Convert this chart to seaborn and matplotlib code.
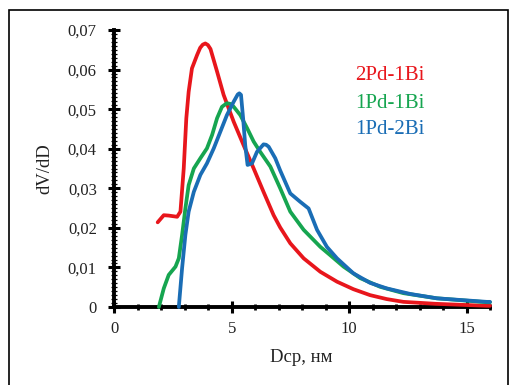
import matplotlib
matplotlib.use("Agg")
import matplotlib.pyplot as plt
import seaborn as sns
import pandas as pd
from matplotlib.patches import Rectangle
from matplotlib.ticker import MultipleLocator, FixedLocator

# ---- data ----
red_x = [1.84, 2.10, 2.31, 2.67, 2.81, 2.95, 3.06, 3.16, 3.30, 3.52, 3.65, 3.76, 3.87, 3.98, 4.09,
         4.37, 4.65, 5.08, 5.50, 5.93, 6.35, 6.78, 7.06, 7.49, 8.06, 8.77, 9.48, 10.18, 10.89,
         11.6, 12.31, 13.7, 15.86, 16.0]
red_y = [0.0214, 0.0232, 0.0231, 0.0228, 0.0241, 0.0350, 0.0477, 0.0544, 0.0603, 0.0637, 0.0655,
         0.0663, 0.0666, 0.0662, 0.0652, 0.0595, 0.0536, 0.0468, 0.0409, 0.0350, 0.0291, 0.0232,
         0.0201, 0.0161, 0.0123, 0.0089, 0.0064, 0.0045, 0.0030, 0.0020, 0.0013, 0.0008, 0.0003,
         0.0003]

green_x = [1.89, 2.10, 2.31, 2.60, 2.74, 2.88, 3.02, 3.16, 3.38, 3.66, 3.94, 4.16, 4.37, 4.58,
           4.79, 4.95, 5.08, 5.36, 5.65, 5.93, 6.21, 6.64, 7.06, 7.49, 8.06, 8.77, 9.19, 9.76,
           10.47, 11.32, 12.31, 13.73, 15.86, 16.0]
green_y = [0.0, 0.0047, 0.0081, 0.0102, 0.0123, 0.0182, 0.0249, 0.0308, 0.0350, 0.0376, 0.0401,
           0.0435, 0.0477, 0.0506, 0.0515, 0.0513, 0.0506, 0.0485, 0.0452, 0.0418, 0.0392, 0.0355,
           0.0300, 0.0241, 0.0195, 0.0152, 0.0131, 0.0102, 0.0073, 0.0051, 0.0035, 0.0022, 0.0012,
           0.0012]

blue_x = [2.74, 2.88, 3.02, 3.16, 3.38, 3.66, 3.94, 4.23, 4.51, 4.79, 5.08, 5.25, 5.32, 5.39, 5.48,
          5.57, 5.67, 5.86, 6.07, 6.35, 6.46, 6.57, 6.85, 7.06, 7.49, 7.91, 8.27, 8.63, 9.05, 9.48,
          10.18, 10.89, 11.6, 12.6, 13.73, 15.86, 16.0]
blue_y = [0.0, 0.0098, 0.0182, 0.0241, 0.0291, 0.0334, 0.0363, 0.0401, 0.0443, 0.0485, 0.0519,
          0.0537, 0.0540, 0.0536, 0.0477, 0.0409, 0.0359, 0.0363, 0.0392, 0.0411, 0.0410, 0.0405,
          0.0376, 0.0345, 0.0287, 0.0266, 0.0249, 0.0195, 0.0152, 0.0123, 0.0085, 0.0061, 0.0047,
          0.0033, 0.0022, 0.0013, 0.0013]

series_names = ["2Pd-1Bi", "1Pd-1Bi", "1Pd-2Bi"]
series_colors = ["#e8161c", "#16a550", "#1a6db5"]

x_ticks = [0, 5, 10, 15]
x_tick_labels = ["0", "5", "10", "15"]
y_ticks = [0, 0.01, 0.02, 0.03, 0.04, 0.05, 0.06, 0.07]
y_tick_labels = ["0", "0,01", "0,02", "0,03", "0,04", "0,05", "0,06", "0,07"]
x_label = "Dcp, нм"
y_label = "dV/dD"

# ---- build table ----
frames = []
for name, xs, ys in zip(series_names, [red_x, green_x, blue_x], [red_y, green_y, blue_y]):
    frames.append(pd.DataFrame({"D": xs, "dVdD": ys, "sample": name}))
df = pd.concat(frames, ignore_index=True)

sns.set_theme(style="white")
plt.rcParams["font.family"] = ["Liberation Serif", "DejaVu Serif"]

W, H = 510, 385
fig = plt.figure(figsize=(W / 100, H / 100), dpi=100)
ax = fig.add_axes([114.5 / W, 1 - 307 / H, (490 - 114.5) / W, (307 - 30) / H])

sns.lineplot(data=df, x="D", y="dVdD", hue="sample", hue_order=series_names,
             palette=dict(zip(series_names, series_colors)), linewidth=2.7,
             sort=False, estimator=None, ax=ax, legend=False, clip_on=False)
for ln in ax.get_lines():
    ln.set_solid_joinstyle("round")
    ln.set_solid_capstyle("round")
    ln.set_zorder(3)

ax.set_xlim(0, 16)
ax.set_ylim(0, 0.07)

for s in ["top", "right"]:
    ax.spines[s].set_visible(False)
for s in ["left", "bottom"]:
    ax.spines[s].set_linewidth(2.8)
    ax.spines[s].set_color("black")
    ax.spines[s].set_zorder(2)

ax.xaxis.set_major_locator(FixedLocator(x_ticks))
ax.set_xticklabels(x_tick_labels)
ax.xaxis.set_minor_locator(MultipleLocator(1))
ax.yaxis.set_major_locator(FixedLocator(y_ticks))
ax.set_yticklabels(y_tick_labels)
ax.yaxis.set_minor_locator(MultipleLocator(0.001))

ax.tick_params(axis="both", which="major", direction="inout", length=8.5, width=2.2,
               color="black", labelsize=12, labelcolor="#222222")
ax.tick_params(axis="x", which="major", pad=5.5)
ax.tick_params(axis="y", which="major", pad=8.5)
ax.tick_params(axis="x", which="minor", direction="inout", length=4.8, width=2.0, color="black")
ax.tick_params(axis="y", which="minor", direction="inout", length=3.8, width=0.9, color="black")
ax.tick_params(left=True, bottom=True, which="both")

ax.set_xlabel("")
ax.set_ylabel("")
fig.text(301 / W, 1 - 358 / H, x_label, ha="center", va="center", fontsize=13.5, color="#222222")
fig.text(45 / W, 1 - 169 / H, y_label, ha="center", va="center", rotation=90, fontsize=13.5,
         color="#222222")

label_y = [75, 103, 130]
for name, col, yy in zip(series_names, series_colors, label_y):
    fig.text(355 / W, 1 - yy / H, name, ha="left", va="center", fontsize=15, color=col)

# outer frame (bottom edge falls outside the picture)
fig.patches.append(Rectangle((9 / W, -0.05), (508.5 - 9) / W, 1 - 10 / H + 0.05,
                             transform=fig.transFigure, fill=False, edgecolor="black",
                             linewidth=1.2, figure=fig))

fig.savefig("out.png", dpi=100)
